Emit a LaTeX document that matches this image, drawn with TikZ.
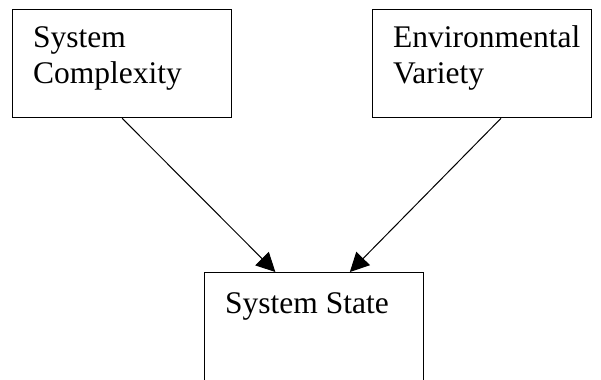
\documentclass[tikz,border=0pt]{standalone}
\usepackage{fontspec}
\setmainfont{Liberation Serif}
\usetikzlibrary{arrows.meta,calc}

\tikzset{
  box/.style={draw=black, line width=1.3bp, rectangle, inner sep=0pt,
              minimum width=219bp, minimum height=108bp},
  txt/.style={anchor=base west, inner sep=0pt,
              font=\fontsize{31.5bp}{36bp}\selectfont},
  link/.style={draw=black, line width=1bp,
               -{Triangle[length=19bp,width=19bp]}}
}

\begin{document}
\begin{tikzpicture}[x=1bp, y=-1bp]
  \useasboundingbox (0,0) rectangle (601,379);
  \clip (0,0) rectangle (601,379);

  % the three blocks (the right and bottom ones run past the page edge)
  \node[box, anchor=north west] (complexity) at (12,9) {};
  \node[box, anchor=north west] (variety) at (372,9) {};
  \node[box, anchor=north west, minimum height=140bp] (state) at (204,272) {};

  % block captions
  \node[txt] (complexityA) at (33,47) {System};
  \node[txt] (complexityB) at (33,83) {Complexity};
  \node[txt] (varietyA) at (393,47) {Environmental};
  \node[txt] (varietyB) at (393,83) {Variety};
  \node[txt] (stateA) at (225,313) {System State};

  % arrow end points on the top edge of the bottom block
  \coordinate (inL) at ($(state.north west)!0.324!(state.north east)$);
  \coordinate (inR) at ($(state.north west)!0.662!(state.north east)$);
  \coordinate (outR) at ($(variety.south west)+(129,0)$);

  \draw[link] (complexity.south) -- (inL);
  \draw[link] (outR) -- (inR);
\end{tikzpicture}
\end{document}
